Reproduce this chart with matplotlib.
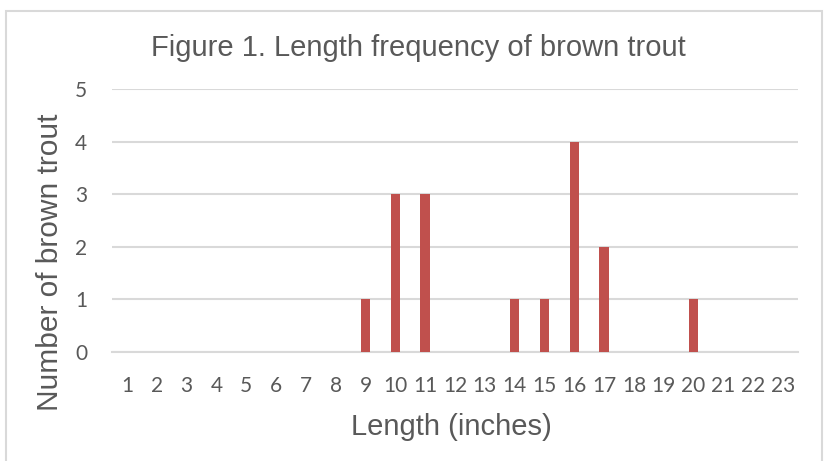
import matplotlib.pyplot as plt
from matplotlib.patches import Rectangle

lengths = list(range(1, 24))
counts = [0, 0, 0, 0, 0, 0, 0, 0, 1, 3, 3, 0, 0, 1, 1, 4, 2, 0, 0, 1, 0, 0, 0]
yticks = [0, 1, 2, 3, 4, 5]

bar_color = "#C0504D"
text_gray = "#595959"
grid_gray = "#D9D9D9"

fig = plt.figure(figsize=(8.25, 4.61), dpi=100)
ax = fig.add_axes([112 / 825, 1 - 352 / 461, 686 / 825, 263 / 461])

ax.bar(lengths, counts, width=0.32, color=bar_color, zorder=3)
ax.set_xlim(0.5, 23.5)
ax.set_ylim(0, 5)
ax.set_yticks(yticks)
ax.set_xticks(lengths)
ax.grid(axis="y", color=grid_gray, linewidth=1.5, zorder=0)
ax.set_axisbelow(True)
for s in ["top", "right", "left"]:
    ax.spines[s].set_visible(False)
ax.spines["bottom"].set_color(grid_gray)
ax.spines["bottom"].set_linewidth(1.5)
ax.tick_params(length=0, labelsize=15, labelcolor=text_gray, pad=17)
ax.tick_params(axis="y", pad=18)
for lab in ax.get_xticklabels() + ax.get_yticklabels():
    lab.set_family("Lato")

fig.text(418 / 825, 1 - 48 / 461, "Figure 1. Length frequency of brown trout",
         ha="center", va="center", fontsize=21, color=text_gray,
         family="Liberation Sans")
fig.text(451 / 825, 1 - 427 / 461, "Length (inches)", ha="center", va="center",
         fontsize=21, color=text_gray, family="Liberation Sans")
fig.text(50 / 825, 1 - 262 / 461, "Number of brown trout", ha="center",
         va="center", rotation=90, fontsize=21.5, color=text_gray,
         family="Liberation Sans")

# chart frame
fig.patches.append(Rectangle((6 / 825, -0.05), 816 / 825, 1.05 - 11 / 461,
                             transform=fig.transFigure, fill=False,
                             edgecolor=grid_gray, linewidth=1.5))

fig.savefig("out.png", dpi=100)
